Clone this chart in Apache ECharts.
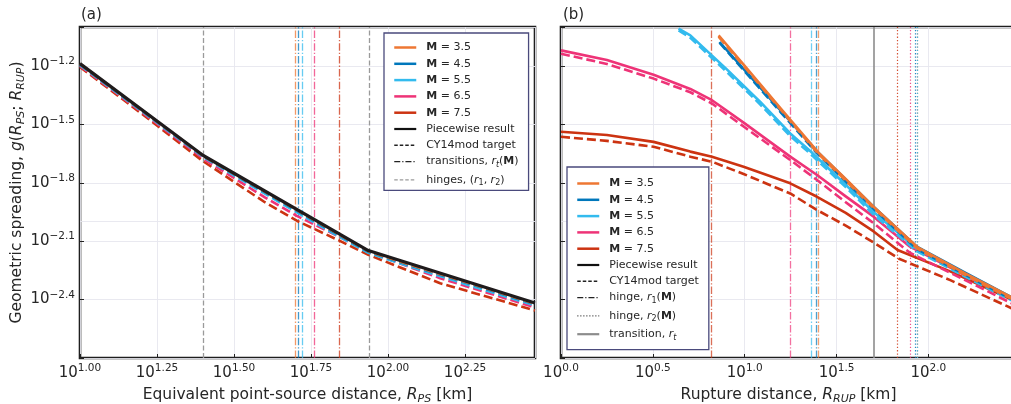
<!DOCTYPE html>
<html><head><meta charset="utf-8">
<script src="https://cdn.jsdelivr.net/npm/echarts@6/dist/echarts.min.js"></script>
<style>html,body{margin:0;padding:0;background:#fff}#c{width:1011px;height:404px}</style>
</head><body><div id="c"></div>
<script>
// ---------------- data (all values in log10 units) ----------------
const magnitudes = ['3.5', '4.5', '5.5', '6.5', '7.5'];
const xTicksA = [1.0, 1.25, 1.5, 1.75, 2.0, 2.25];
const xTicksB = [0.0, 0.5, 1.0, 1.5, 2.0];
const yTicks = [-2.4, -2.1, -1.8, -1.5, -1.2];

// Panel (a): g vs log10(R_PS)
const aPiecewise = [[1.0,-1.188],[1.40,-1.660],[1.936,-2.148],[2.477,-2.418]];
const aTarget35 = [[1.0,-1.190],[1.2,-1.426],[1.4,-1.662],[1.6,-1.845],[1.8,-2.028],[1.936,-2.151],[2.1,-2.235],[2.3,-2.333],[2.477,-2.421]];
const aTarget45 = [[1.0,-1.192],[1.2,-1.428],[1.4,-1.664],[1.6,-1.848],[1.8,-2.032],[1.936,-2.154],[2.1,-2.238],[2.3,-2.336],[2.477,-2.424]];
const aTarget55 = [[1.0,-1.196],[1.2,-1.432],[1.4,-1.668],[1.6,-1.856],[1.8,-2.040],[1.936,-2.160],[2.1,-2.245],[2.3,-2.345],[2.477,-2.430]];
const aTarget65 = [[1.0,-1.200],[1.2,-1.437],[1.4,-1.676],[1.6,-1.875],[1.7036,-1.970],[1.8386,-2.075],[1.936,-2.155],[2.169,-2.290],[2.477,-2.440]];
const aTarget75 = [[1.0,-1.205],[1.2,-1.445],[1.4,-1.690],[1.6,-1.900],[1.7036,-1.995],[1.8386,-2.095],[1.936,-2.170],[2.169,-2.316],[2.477,-2.456]];
const aTransitions = [1.7036, 1.7088, 1.7214, 1.762, 1.8386];
const aHinges = [1.40, 1.936];

// Panel (b): g vs log10(R_RUP)
const bSolid35 = [[0.858,-1.043],[1.0,-1.200],[1.2,-1.423],[1.399,-1.643],[1.55,-1.780],[1.70,-1.922],[1.94,-2.130],[2.2,-2.265],[2.477,-2.400]];
const bDash35  = [[0.858,-1.050],[1.0,-1.206],[1.2,-1.429],[1.399,-1.650],[1.70,-1.928],[1.94,-2.138],[2.2,-2.273],[2.477,-2.408]];
const bSolid45 = [[0.863,-1.077],[1.0,-1.222],[1.2,-1.434],[1.39,-1.635],[1.70,-1.922],[1.937,-2.128],[2.2,-2.262],[2.477,-2.400]];
const bDash45  = [[0.863,-1.080],[1.0,-1.228],[1.2,-1.442],[1.39,-1.645],[1.70,-1.932],[1.937,-2.140],[2.2,-2.272],[2.477,-2.410]];
const bSolid55 = [[0.640,-1.008],[0.704,-1.043],[0.9,-1.215],[1.085,-1.385],[1.248,-1.547],[1.361,-1.641],[1.55,-1.810],[1.70,-1.949],[1.938,-2.140],[2.2,-2.270],[2.477,-2.405]];
const bDash55  = [[0.640,-1.018],[0.704,-1.055],[0.9,-1.228],[1.085,-1.398],[1.248,-1.560],[1.361,-1.654],[1.55,-1.822],[1.70,-1.962],[1.938,-2.152],[2.2,-2.282],[2.477,-2.415]];
const bSolid65 = [[0.0,-1.120],[0.25,-1.170],[0.504,-1.245],[0.704,-1.318],[0.822,-1.376],[1.0,-1.495],[1.248,-1.666],[1.394,-1.760],[1.55,-1.870],[1.702,-1.974],[1.90,-2.128],[2.2,-2.275],[2.477,-2.405]];
const bDash65  = [[0.0,-1.137],[0.25,-1.190],[0.504,-1.265],[0.704,-1.335],[0.822,-1.393],[1.0,-1.515],[1.248,-1.683],[1.394,-1.786],[1.55,-1.900],[1.702,-2.008],[1.90,-2.160],[2.2,-2.300],[2.477,-2.430]];
const bSolid75 = [[0.0,-1.538],[0.25,-1.555],[0.504,-1.590],[0.704,-1.640],[0.822,-1.666],[0.994,-1.718],[1.248,-1.803],[1.394,-1.872],[1.55,-1.955],[1.702,-2.050],[1.832,-2.145],[2.119,-2.255],[2.477,-2.410]];
const bDash75  = [[0.0,-1.564],[0.25,-1.585],[0.504,-1.615],[0.704,-1.666],[0.822,-1.692],[0.994,-1.755],[1.248,-1.855],[1.394,-1.940],[1.55,-2.020],[1.702,-2.107],[1.84,-2.190],[2.119,-2.300],[2.477,-2.455]];
const bHinge1 = [1.399, 1.390, 1.361, 1.248, 0.822];
const bHinge2 = [1.940, 1.929, 1.938, 1.900, 1.832];
const bTransition = 1.70;

// ---------------- styling ----------------
const FONT = 'DejaVu Sans';
const TXT = '#262626';
const GRIDC = '#e6e6ee';
const colors = ['#EE7733', '#0077BB', '#33BBEE', '#EE3377', '#CC3311'];
const aTargets = [aTarget35, aTarget45, aTarget55, aTarget65, aTarget75];
const bSolids = [bSolid35, bSolid45, bSolid55, bSolid65, bSolid75];
const bDashes = [bDash35, bDash45, bDash55, bDash65, bDash75];
const DASH = [9, 4];
const DASHDOT = [7.5, 2, 1.3, 2];
const DOT = [1.3, 2];

const near = (v, arr) => arr.some(t => Math.abs(v - t) < 1e-6);
const tickRich = {
  b: {fontFamily: FONT, fontSize: 15, color: TXT, lineHeight: 20},
  s: {fontFamily: FONT, fontSize: 10.5, color: TXT, verticalAlign: 'top', lineHeight: 11}
};
const nameRich = {
  t: {fontFamily: FONT, fontSize: 15.5, color: TXT, lineHeight: 20},
  i: {fontFamily: FONT, fontSize: 15.5, color: TXT, fontStyle: 'italic', lineHeight: 20},
  sub: {fontFamily: FONT, fontSize: 11, color: TXT, fontStyle: 'italic', verticalAlign: 'bottom', lineHeight: 12}
};
const legRich = {
  sp: {width: 5},
  t: {fontFamily: FONT, fontSize: 11, color: TXT, lineHeight: 15},
  b: {fontFamily: FONT, fontSize: 11, color: TXT, fontWeight: 'bold', lineHeight: 15},
  i: {fontFamily: FONT, fontSize: 11, color: TXT, fontStyle: 'italic', lineHeight: 15},
  sub: {fontFamily: FONT, fontSize: 8, color: TXT, fontStyle: 'italic', verticalAlign: 'bottom', lineHeight: 9},
  subn: {fontFamily: FONT, fontSize: 8, color: TXT, verticalAlign: 'bottom', lineHeight: 9}
};

function xAxisCfg(gi, min, ticks, nameStr, digits) {
  return {
    gridIndex: gi, type: 'value', min: min, max: 2.477, interval: ticks[1] - ticks[0],
    axisLine: {show: false},
    axisTick: {show: true, inside: true, length: 4, lineStyle: {color: '#222', width: 1}},
    axisLabel: {margin: 5, showMaxLabel: false, rich: tickRich,
      formatter: v => near(v, ticks) ? '{b|10}{s|' + v.toFixed(digits) + '}' : ''},
    splitLine: {show: true, lineStyle: {color: GRIDC, width: 0.9}},
    name: nameStr, nameLocation: 'middle', nameGap: 27, nameTextStyle: {rich: nameRich}
  };
}
function yAxisCfg(gi, showLabels) {
  const o = {
    gridIndex: gi, type: 'value', min: -2.7, max: -1.0, interval: 0.3,
    axisLine: {show: false},
    axisTick: {show: true, inside: true, length: 4, lineStyle: {color: '#222', width: 1}},
    axisLabel: {show: showLabels, margin: 5, rich: tickRich,
      formatter: v => near(v, yTicks) ? '{b|10}{s|\u2212' + Math.abs(v).toFixed(1) + '}' : ''},
    splitLine: {show: true, lineStyle: {color: GRIDC, width: 0.9}}
  };
  if (showLabels) {
    o.name = '{t|Geometric spreading, }{i|g}{t|(}{i|R}{sub|PS}{t|; }{i|R}{sub|RUP}{t|)}';
    o.nameLocation = 'middle'; o.nameGap = 52; o.nameTextStyle = {rich: nameRich};
  }
  return o;
}

const series = [];
function curve(gi, data, color, width, type, z) {
  series.push({type: 'line', xAxisIndex: gi, yAxisIndex: gi, data: data, symbol: 'none',
    silent: true, z: z, clip: true,
    lineStyle: {color: color, width: width, type: type, cap: 'butt', join: 'round'}});
}
function vlines(gi, list, z) {
  series.push({type: 'line', xAxisIndex: gi, yAxisIndex: gi, data: [], symbol: 'none', z: z,
    markLine: {silent: true, z: z, symbol: ['none', 'none'], label: {show: false}, animation: false,
      data: list}});
}

// grid minor line at 10^-2 in both panels
[0, 1].forEach(gi => vlines(gi, [{yAxis: -2.0, lineStyle: {color: GRIDC, width: 0.9, type: 'solid'}}], 0));

// panel (a) vertical lines
vlines(0, aHinges.map(v => ({xAxis: v, lineStyle: {color: '#9a9a9a', width: 1.3, type: [5, 2.5]}})), 1);
vlines(0, aTransitions.map((v, k) => ({xAxis: v, lineStyle: {color: colors[k], width: 1.3, type: DASHDOT, opacity: 0.75}})), 1);
// panel (a) curves
for (let k = 4; k >= 0; k--) curve(0, aTargets[k], colors[k], 2.6, DASH, 2);
curve(0, aPiecewise, '#1f1b1c', 3.2, 'solid', 3);

// panel (b) vertical lines
vlines(1, bHinge1.map((v, k) => ({xAxis: v, lineStyle: {color: colors[k], width: 1.3, type: DASHDOT, opacity: 0.7}})), 1);
vlines(1, bHinge2.map((v, k) => ({xAxis: v, lineStyle: {color: colors[k], width: 1.2, type: DOT, opacity: 0.85}})), 1);
vlines(1, [{xAxis: bTransition, lineStyle: {color: '#8c8c8c', width: 1.6, type: 'solid'}}], 1);
// panel (b) curves
for (let k = 4; k >= 0; k--) {
  curve(1, bSolids[k], colors[k], 2.6, 'solid', 2 + (4 - k) * 0.1);
  curve(1, bDashes[k], colors[k], 2.6, DASH, 2 + (4 - k) * 0.1);
}

// legend-only series
const legendDefs = [
  ['M35', colors[0], 'solid', 2.5], ['M45', colors[1], 'solid', 2.5], ['M55', colors[2], 'solid', 2.5],
  ['M65', colors[3], 'solid', 2.5], ['M75', colors[4], 'solid', 2.5],
  ['pw', '#111', 'solid', 2.2], ['tg', '#222', [3.5, 2], 1.4],
  ['trA', '#222', [6, 2, 1.2, 2], 1.4], ['hgA', '#9a9a9a', [3.5, 2], 1.2],
  ['h1B', '#222', [6, 2, 1.2, 2], 1.4], ['h2B', '#555', [1.2, 1.8], 1.2], ['trB', '#8c8c8c', 'solid', 2.2]
];
legendDefs.forEach(d => series.push({type: 'line', name: d[0], xAxisIndex: 0, yAxisIndex: 0, data: [],
  symbol: 'none', lineStyle: {color: d[1], type: d[2], width: d[3]}, itemStyle: {color: d[1]}}));
const legendLabels = {
  M35: '{sp|}{b|M}{t| = 3.5}', M45: '{sp|}{b|M}{t| = 4.5}', M55: '{sp|}{b|M}{t| = 5.5}',
  M65: '{sp|}{b|M}{t| = 6.5}', M75: '{sp|}{b|M}{t| = 7.5}',
  pw: '{sp|}{t|Piecewise result}', tg: '{sp|}{t|CY14mod target}',
  trA: '{sp|}{t|transitions, }{i|r}{sub|t}{t|(}{b|M}{t|)}',
  hgA: '{sp|}{t|hinges, (}{i|r}{subn|1}{t|, }{i|r}{subn|2}{t|)}',
  h1B: '{sp|}{t|hinge, }{i|r}{subn|1}{t|(}{b|M}{t|)}',
  h2B: '{sp|}{t|hinge, }{i|r}{subn|2}{t|(}{b|M}{t|)}',
  trB: '{sp|}{t|transition, }{i|r}{sub|t}'
};
function legendItem(n) {
  const d = legendDefs.find(x => x[0] === n);
  return {name: n, lineStyle: {width: d[3], type: d[2], color: d[1]},
    itemStyle: {color: 'rgba(0,0,0,0)', borderWidth: 0, opacity: 0}};
}
function legendCfg(left, top, names, pad) {
  return {
    left: left, top: top, orient: 'vertical', padding: pad, itemGap: 5.3, itemWidth: 22, itemHeight: 11,
    backgroundColor: '#fff', borderColor: '#4a4a7c', borderWidth: 1.3, borderRadius: 0, z: 10,
    selectedMode: false, data: names.map(legendItem),
    formatter: n => legendLabels[n], textStyle: {fontFamily: FONT, fontSize: 11, color: TXT, rich: legRich}
  };
}

const option = {
  animation: false,
  backgroundColor: '#fff',
  title: [
    {text: '(a)', left: 76, top: 3, textStyle: {fontFamily: FONT, fontSize: 15, fontWeight: 'normal', color: TXT}},
    {text: '(b)', left: 558, top: 3, textStyle: {fontFamily: FONT, fontSize: 15, fontWeight: 'normal', color: TXT}}
  ],
  grid: [
    {left: 80, top: 27, width: 455, height: 331, show: true, borderColor: '#1e1e1e', borderWidth: 2.6,
      backgroundColor: 'transparent', outerBoundsMode: 'none', containLabel: false},
    {left: 561, top: 27, width: 455, height: 331, show: true, borderColor: '#1e1e1e', borderWidth: 2.6,
      backgroundColor: 'transparent', outerBoundsMode: 'none', containLabel: false}
  ],
  xAxis: [
    xAxisCfg(0, 1.0, xTicksA, '{t|Equivalent point-source distance, }{i|R}{sub|PS}{t| [km]}', 2),
    xAxisCfg(1, 0.0, xTicksB, '{t|Rupture distance, }{i|R}{sub|RUP}{t| [km]}', 1)
  ],
  yAxis: [yAxisCfg(0, true), yAxisCfg(1, false)],
  legend: [
    legendCfg(384, 33, ['M35','M45','M55','M65','M75','pw','tg','trA','hgA'], [9, 10, 3, 9]),
    legendCfg(567, 167, ['M35','M45','M55','M65','M75','pw','tg','h1B','h2B','trB'], [11, 10, 8, 9])
  ],
  series: series
};
const chart = echarts.init(document.getElementById('c'), null, {renderer: 'canvas'});
chart.setOption(option);
</script>
</body></html>
